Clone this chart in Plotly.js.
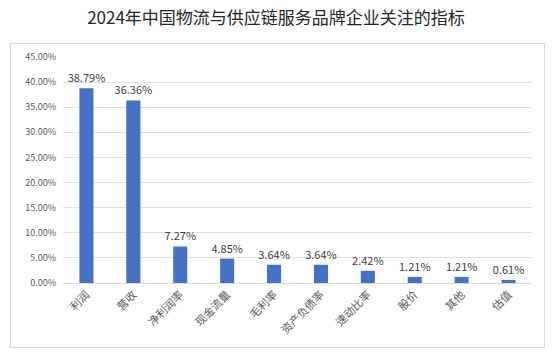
<!DOCTYPE html>
<html><head><meta charset="utf-8">
<script src="https://cdn.plot.ly/plotly-3.0.1.min.js"></script>
<style>html,body{margin:0;padding:0;background:#fff;}#wrap{position:relative;width:552px;height:353px;}
#frame{position:absolute;left:10px;top:43px;width:535px;height:305px;border:1px solid #d9d9d9;pointer-events:none;box-sizing:border-box;}</style>
</head><body><div id="wrap"><div id="chart" style="width:552px;height:353px;"></div><div id="frame"></div></div>
<script>
const categories = ['利润','营收','净利润率','现金流量','毛利率','资产负债率','速动比率','股价','其他','估值'];
const values = [0.3879,0.3636,0.0727,0.0485,0.0364,0.0364,0.0242,0.0121,0.0121,0.0061];
const labels = ['38.79%','36.36%','7.27%','4.85%','3.64%','3.64%','2.42%','1.21%','1.21%','0.61%'];
const font = '"Noto Sans CJK SC","Noto Sans",sans-serif';
Plotly.newPlot('chart',[{
  type:'bar', x:categories, y:values, text:labels, textposition:'outside', cliponaxis:false,
  constraintext:'none',
  textfont:{size:11,color:'#404040',family:font},
  marker:{color:'#4472C4'}, width:0.3, hoverinfo:'none'
}],{
  width:552,height:353,margin:{l:63,r:20,t:57,b:70},
  paper_bgcolor:'#fff',plot_bgcolor:'#fff',
  title:{text:'2024年中国物流与供应链服务品牌企业关注的指标',font:{size:17,color:'#262626',family:font},x:0.5,xanchor:'center',y:0.95,yanchor:'middle'},
  xaxis:{tickangle:-45,tickfont:{size:11,color:'#595959',family:font},showline:true,linecolor:'#d9d9d9',ticks:'',showgrid:false},
  yaxis:{range:[0,0.45],dtick:0.05,tickformat:'.2%',ticklabelstandoff:6,tickfont:{size:9,color:'#595959',family:font},gridcolor:'#e0e0e0',zeroline:false,showline:false,ticks:''},
  bargap:0.7,showlegend:false
},{staticPlot:true});
</script></body></html>
